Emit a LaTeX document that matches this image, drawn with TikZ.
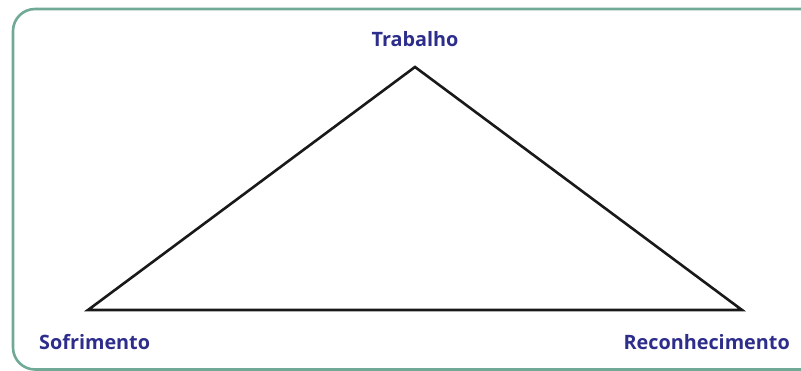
\documentclass[tikz,border=0pt]{standalone}
\usepackage{fontspec}
\setmainfont{Open Sans}
\definecolor{FrameGreen}{RGB}{112,170,150}
\definecolor{LabelBlue}{RGB}{45,45,140}
\usetikzlibrary{positioning}
\tikzset{>=latex}
\tikzset{mylabel/.style={text=LabelBlue,font=\fontsize{19.8}{22}\selectfont\bfseries,inner sep=0pt}}
\tikzset{myedges/.style={line width=2.6pt,black!90,line join=miter}}
\begin{document}
\begin{tikzpicture}[x=1pt,y=-1pt]
        \useasboundingbox (0,0) rectangle (801,371);
        \clip (0,0) rectangle (801,371);
        \draw[FrameGreen,line width=2.6pt,rounded corners=22pt] (13,9) rectangle (830,369.5);
        \coordinate (trab) at (415,67);
        \coordinate (sofr) at (88,310);
        \coordinate (reco) at (742,310);
        \draw[myedges] (trab) -- (reco) -- (sofr) -- cycle;
        \node[mylabel,anchor=base] (ltrab) at (415,47) {Trabalho};
        \node[mylabel,anchor=base west] (lsofr) at (39,350) {Sofrimento};
        \node[mylabel,anchor=base east] (lreco) at (790,350) {Reconhecimento};
    \end{tikzpicture}
\end{document}
